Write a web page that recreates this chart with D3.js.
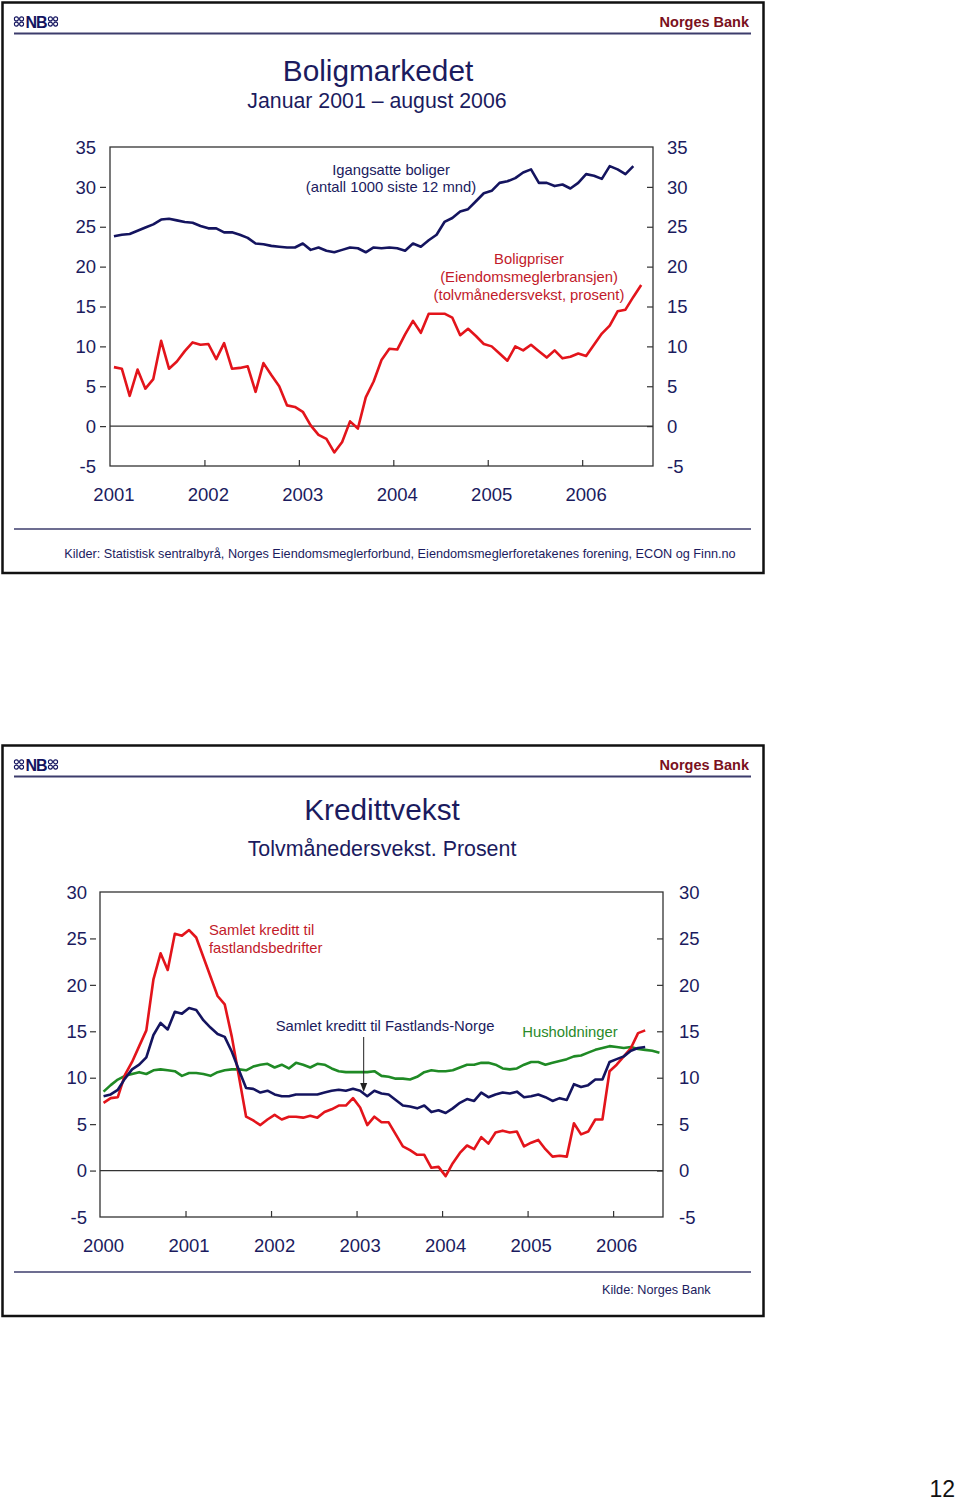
<!DOCTYPE html>
<html>
<head>
<meta charset="utf-8">
<script src="https://cdn.jsdelivr.net/npm/d3@7"></script>
<style>
  html, body { margin: 0; padding: 0; background: #fff; }
  svg { display: block; font-family: "Liberation Sans", Arial, sans-serif; }
</style>
</head>
<body>
<svg id="chart" width="960" height="1501"></svg>
<script>
// ---------- DATA: Boligmarkedet (monthly, Jan 2001 – Aug 2006) ----------
const topYears = ["2001", "2002", "2003", "2004", "2005", "2006"];
const topTicks = [-5, 0, 5, 10, 15, 20, 25, 30, 35];
const igangsatteBoliger = [
  23.8,24.0,24.1,24.5,24.9,25.3,25.9,26.0,25.8,25.6,25.5,25.1,
  24.8,24.8,24.3,24.3,24.0,23.6,22.9,22.8,22.6,22.5,22.4,22.4,
  22.9,22.1,22.4,22.0,21.8,22.1,22.4,22.3,21.8,22.4,22.3,22.4,
  22.3,22.0,22.9,22.5,23.3,24.0,25.6,26.1,26.9,27.2,28.2,29.2,
  29.5,30.5,30.7,31.1,31.8,32.2,30.5,30.5,30.1,30.3,29.8,30.5,
  31.6,31.4,31.0,32.6,32.2,31.6,32.6
];
const boligpriser = [
  7.4,7.2,3.8,7.1,4.7,5.9,10.7,7.2,8.1,9.4,10.5,10.2,
  10.3,8.4,10.4,7.2,7.3,7.5,4.3,7.9,6.4,5.0,2.6,2.4,
  1.8,0.1,-1.1,-1.6,-3.3,-2.0,0.6,-0.3,3.6,5.6,8.3,9.7,
  9.6,11.5,13.2,11.7,14.1,14.1,14.1,13.6,11.4,12.2,11.3,10.3,
  10.0,9.1,8.2,10.0,9.5,10.2,9.4,8.6,9.5,8.5,8.7,9.1,
  8.8,10.2,11.6,12.6,14.4,14.6,16.2,17.7
];

// ---------- DATA: Kredittvekst (monthly, Jan 2000 – Jul 2006) ----------
const botYears = ["2000", "2001", "2002", "2003", "2004", "2005", "2006"];
const botTicks = [-5, 0, 5, 10, 15, 20, 25, 30];
const kredittBedrifter = [
  7.3,7.8,7.9,10.3,11.7,13.4,15.1,20.6,23.4,21.6,25.5,25.3,
  25.9,25.1,23.0,20.9,18.8,17.9,14.4,10.1,5.8,5.4,4.9,5.5,
  6.0,5.5,5.8,5.8,5.7,5.9,5.7,6.3,6.6,7.0,7.0,7.8,
  6.8,4.9,5.8,5.2,5.2,3.9,2.6,2.2,1.7,1.7,0.3,0.4,
  -0.6,0.8,1.9,2.7,2.3,3.6,2.9,4.1,4.3,4.1,4.2,2.6,
  3.0,3.3,2.3,1.5,1.6,1.5,5.1,3.9,4.2,5.5,5.5,10.7,
  11.4,12.3,13.2,14.8,15.1
];
const kredittFastland = [
  8.0,8.2,8.7,9.9,10.9,11.4,12.2,14.6,15.9,15.2,17.1,16.9,
  17.5,17.3,16.2,15.4,14.7,14.4,12.8,10.8,8.9,8.8,8.4,8.6,
  8.2,8.0,8.0,8.2,8.2,8.2,8.2,8.4,8.6,8.7,8.6,8.8,
  8.6,8.0,8.6,8.3,8.2,7.6,7.0,6.9,6.7,7.0,6.3,6.5,
  6.2,6.7,7.3,7.7,7.5,8.4,7.9,8.2,8.4,8.3,8.5,7.9,
  8.0,8.2,7.9,7.5,7.8,7.6,9.3,9.0,9.2,9.8,9.8,11.7,
  12.0,12.3,12.9,13.2,13.3
];
const husholdninger = [
  8.5,9.2,9.8,10.2,10.4,10.6,10.4,10.8,10.9,10.8,10.7,10.2,
  10.5,10.5,10.4,10.2,10.6,10.8,10.9,10.9,10.8,11.2,11.4,11.5,
  11.1,11.4,11.0,11.6,11.4,11.1,11.5,11.4,11.0,10.7,10.6,10.6,
  10.6,10.6,10.7,10.2,10.1,9.9,9.9,9.8,10.1,10.6,10.8,10.7,
  10.7,10.8,11.1,11.4,11.4,11.6,11.6,11.4,11.0,10.9,11.0,11.4,
  11.7,11.7,11.4,11.6,11.8,12.0,12.3,12.4,12.7,13.0,13.2,13.4,
  13.3,13.2,13.3,13.1,13.0,12.9,12.7
];

// ---------- STYLE ----------
const NAVY = "#14145f";
const TXT = "#1b1b5e";
const RED = "#e3141b";
const REDTXT = "#c21a2a";
const GREEN = "#1f8a25";
const GREENTXT = "#2a8a2a";
const BRAND = "#7a1020";
const AXIS = "#333";
const ANN = 14.8;

const svg = d3.select("#chart");

function frame(top, bottom) {
  svg.append("rect").attr("x", 2.5).attr("y", top).attr("width", 761).attr("height", bottom - top)
    .attr("fill", "none").attr("stroke", "#111").attr("stroke-width", 2.5);
  svg.append("line").attr("x1", 14).attr("x2", 751).attr("y1", top + 31).attr("y2", top + 31)
    .attr("stroke", "#3c3c6c").attr("stroke-width", 2);
  svg.append("text").attr("x", 749).attr("y", top + 24).attr("text-anchor", "end")
    .attr("font-size", 14.5).attr("font-weight", "bold").attr("fill", BRAND).text("Norges Bank");
  // logo
  const g = svg.append("g").attr("transform", `translate(14,${top + 25})`);
  g.append("text").attr("x", 22).attr("y", 0).attr("text-anchor", "middle").attr("font-size", 16)
    .attr("font-weight", "bold").attr("fill", NAVY).attr("letter-spacing", -1).text("NB");
  [[5, -6], [39, -6]].forEach(([cx, cy]) => {
    [[-2.6, -2.6], [2.6, -2.6], [-2.6, 2.6], [2.6, 2.6]].forEach(([dx, dy]) => {
      g.append("circle").attr("cx", cx + dx).attr("cy", cy + dy).attr("r", 2)
        .attr("fill", "none").attr("stroke", NAVY).attr("stroke-width", 1.1);
    });
  });
}

function panel(opts) {
  const { x0, x1, yTop, yBot, nMonths, yDomain, ticks, years, leftLabelX, rightLabelX, yearLabelY } = opts;
  const x = d3.scaleLinear().domain([0, nMonths]).range([x0, x1]);
  const y = d3.scaleLinear().domain(yDomain).range([yBot, yTop]);
  const g = svg.append("g");
  g.append("rect").attr("x", x0).attr("y", yTop).attr("width", x1 - x0).attr("height", yBot - yTop)
    .attr("fill", "none").attr("stroke", AXIS).attr("stroke-width", 1.3);
  g.append("line").attr("x1", x0).attr("x2", x1).attr("y1", y(0)).attr("y2", y(0))
    .attr("stroke", AXIS).attr("stroke-width", 1.2);
  const lt = g.append("g").attr("transform", `translate(${x0 - 4},0)`)
    .call(d3.axisLeft(y).tickValues(ticks.slice(1, -1)).tickSize(6).tickFormat(""));
  lt.select(".domain").remove();
  lt.selectAll("line").attr("stroke", AXIS).attr("stroke-width", 1.2);
  const rt = g.append("g").attr("transform", `translate(${x1},0)`)
    .call(d3.axisLeft(y).tickValues(ticks.slice(1, -1)).tickSize(6).tickFormat(""));
  rt.select(".domain").remove();
  rt.selectAll("line").attr("stroke", AXIS).attr("stroke-width", 1.2);
  const yb = years.slice(1).map((_, i) => (i + 1) * 12);
  const bt = g.append("g").attr("transform", `translate(0,${yBot})`)
    .call(d3.axisTop(x).tickValues(yb).tickSize(6).tickFormat(""));
  bt.select(".domain").remove();
  bt.selectAll("line").attr("stroke", AXIS).attr("stroke-width", 1.2);
  g.selectAll(".yl").data(ticks).join("text")
    .attr("x", leftLabelX).attr("y", d => y(d)).attr("dy", "0.36em").attr("text-anchor", "end")
    .attr("font-size", 18.5).attr("fill", TXT).text(d => d);
  g.selectAll(".yr").data(ticks).join("text")
    .attr("x", rightLabelX).attr("y", d => y(d)).attr("dy", "0.36em").attr("text-anchor", "start")
    .attr("font-size", 18.5).attr("fill", TXT).text(d => d);
  g.selectAll(".xl").data(years).join("text")
    .attr("x", (d, i) => x(i * 12 + 0.5)).attr("y", yearLabelY).attr("dy", "0.36em")
    .attr("text-anchor", "middle").attr("font-size", 18.5).attr("fill", TXT).text(d => d);
  return { x, y, g };
}

function drawLine(p, data, color) {
  const line = d3.line().x((d, i) => p.x(i + 0.5)).y(d => p.y(d));
  p.g.append("path").datum(data).attr("d", line).attr("fill", "none")
    .attr("stroke", color).attr("stroke-width", 2.6).attr("stroke-linejoin", "round");
}

function label(x, y, txt, color, anchor) {
  svg.append("text").attr("x", x).attr("y", y).attr("text-anchor", anchor || "middle")
    .attr("font-size", ANN).attr("fill", color).text(txt);
}

// ================= TOP PANEL =================
frame(2.5, 573);
svg.append("text").attr("x", 378).attr("y", 81).attr("text-anchor", "middle")
  .attr("font-size", 29.8).attr("fill", TXT).text("Boligmarkedet");
svg.append("text").attr("x", 377).attr("y", 108).attr("text-anchor", "middle")
  .attr("font-size", 21.3).attr("fill", TXT).text("Januar 2001 – august 2006");

const pTop = panel({ x0: 110, x1: 653, yTop: 147, yBot: 466, nMonths: 69, yDomain: [-5, 35],
  ticks: topTicks, years: topYears, leftLabelX: 96, rightLabelX: 667, yearLabelY: 494 });
drawLine(pTop, boligpriser, RED);
drawLine(pTop, igangsatteBoliger, NAVY);

label(391, 175, "Igangsatte boliger", TXT);
label(391, 192, "(antall 1000 siste 12 mnd)", TXT);
label(529, 264, "Boligpriser", REDTXT);
label(529, 282, "(Eiendomsmeglerbransjen)", REDTXT);
label(529, 300, "(tolvmånedersvekst, prosent)", REDTXT);

svg.append("line").attr("x1", 14).attr("x2", 751).attr("y1", 529).attr("y2", 529)
  .attr("stroke", "#3c3c6c").attr("stroke-width", 1.5);
svg.append("text").attr("x", 400).attr("y", 558).attr("text-anchor", "middle")
  .attr("font-size", 12.7).attr("fill", TXT)
  .text("Kilder: Statistisk sentralbyrå, Norges Eiendomsmeglerforbund, Eiendomsmeglerforetakenes forening, ECON og Finn.no");

// ================= BOTTOM PANEL =================
frame(745.5, 1316);
svg.append("text").attr("x", 382).attr("y", 820).attr("text-anchor", "middle")
  .attr("font-size", 29.8).attr("fill", TXT).text("Kredittvekst");
svg.append("text").attr("x", 382).attr("y", 856).attr("text-anchor", "middle")
  .attr("font-size", 21.4).attr("fill", TXT).text("Tolvmånedersvekst. Prosent");

const pBot = panel({ x0: 100, x1: 663, yTop: 892, yBot: 1217, nMonths: 79, yDomain: [-5, 30],
  ticks: botTicks, years: botYears, leftLabelX: 87, rightLabelX: 679, yearLabelY: 1245 });
drawLine(pBot, husholdninger, GREEN);
drawLine(pBot, kredittBedrifter, RED);
drawLine(pBot, kredittFastland, NAVY);

label(209, 935, "Samlet kreditt til", REDTXT, "start");
label(209, 953, "fastlandsbedrifter", REDTXT, "start");
label(385, 1031, "Samlet kreditt til Fastlands-Norge", TXT);
label(570, 1037, "Husholdninger", GREENTXT);
const ax = pBot.x(37);
svg.append("line").attr("x1", ax).attr("x2", ax).attr("y1", 1037).attr("y2", 1084)
  .attr("stroke", "#222").attr("stroke-width", 1);
svg.append("path").attr("d", `M${ax - 3.5},1083 L${ax + 3.5},1083 L${ax},1092 Z`).attr("fill", "#222");

svg.append("line").attr("x1", 14).attr("x2", 751).attr("y1", 1272).attr("y2", 1272)
  .attr("stroke", "#3c3c6c").attr("stroke-width", 1.5);
svg.append("text").attr("x", 602).attr("y", 1294).attr("font-size", 12.7).attr("fill", TXT)
  .text("Kilde: Norges Bank");

// page number
svg.append("text").attr("x", 955).attr("y", 1497).attr("text-anchor", "end")
  .attr("font-size", 23).attr("fill", "#111").text("12");
</script>
</body>
</html>
